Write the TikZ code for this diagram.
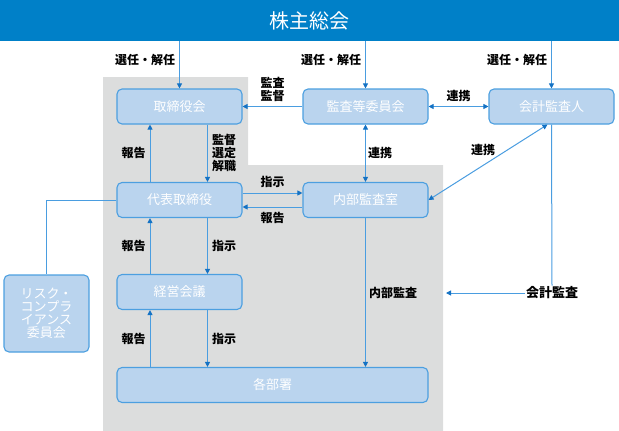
\documentclass[tikz,border=0pt]{standalone}
\usepackage{fontspec}
\setmainfont{Noto Sans CJK JP}
\usetikzlibrary{arrows.meta}
\definecolor{barblue}{HTML}{0080C8}
\definecolor{boxfill}{HTML}{BAD4EE}
\definecolor{boxline}{HTML}{4C9FE0}
\definecolor{lineblue}{HTML}{4A9DE0}
\definecolor{tipblue}{HTML}{1472C4}
\definecolor{areagray}{HTML}{DCDDDD}

\begin{document}
\begin{tikzpicture}[x=1pt, y=-1pt,
    >={Triangle[length=5pt,width=5pt,color=tipblue]},
    box/.style={draw=boxline, line width=1.1pt, fill=boxfill, rounded corners=5pt,
      minimum width=125pt, minimum height=35pt, inner sep=0pt, text=white,
      font=\fontsize{13}{13}\selectfont, align=center},
    lbl/.style={font=\bfseries\fontsize{12}{13}\selectfont, inner sep=1pt, align=center, text=black},
    conn/.style={draw=lineblue, line width=1pt}]
	\useasboundingbox (0,0) rectangle (619,431);
	\fill[areagray] (103,77) -- (248,77) -- (248,165) -- (443,165) -- (443,431) -- (103,431) -- cycle;

	\node[fill=barblue, minimum width=619pt, minimum height=41pt, inner sep=0pt, text=white,
	  font=\fontsize{20}{20}\selectfont] (agm) at (309.5,20.5) {株主総会};

	\node[box] (bod) at (179.5,106.5) {取締役会};
	\node[box] (acc) at (365.5,106.5) {監査等委員会};
	\node[box] (aud) at (551.5,106.5) {会計監査人};
	\node[box] (ceo) at (179.5,200) {代表取締役};
	\node[box] (ias) at (365.5,200) {内部監査室};
	\node[box] (mgmt) at (179.5,292) {経営会議};
	\node[box, minimum width=85pt, minimum height=77pt] (risk) at (46.5,313.5) {リスク・\\コンプラ\\イアンス\\委員会};
	\node[box, minimum width=311pt] (depts) at (272.5,385) {各部署};

		\draw[conn,->] (agm.south -| bod.north) -- node[lbl, left=3pt, pos=0.4] (sel1) {選任・解任} (bod.north);
		\draw[conn,->] (agm.south -| acc.north) -- node[lbl, left=3pt, pos=0.4] (sel2) {選任・解任} (acc.north);
		\draw[conn,->] (agm.south -| aud.north) -- node[lbl, left=3pt, pos=0.4] (sel3) {選任・解任} (aud.north);

		\draw[conn,->] (acc.west) -- node[lbl, above=3pt] (kansa) {監査\\監督} (bod.east);
		\draw[conn,<->] (acc.east) -- node[lbl, above=3.5pt] (renkei1) {連携} (aud.west);
		\draw[conn,<->] (acc.south) -- node[lbl, right=1pt] (renkei2) {連携} (ias.north);
		\draw[conn,<->] ([xshift=-4pt]aud.south) -- node[lbl, above=5pt, xshift=-5pt] (renkei3) {連携} (ias.east);

		\draw[conn,->] ([xshift=28pt]bod.south) -- node[lbl, right=3pt] (kantoku) {監督\\選定\\解職} ([xshift=28pt]ceo.north);
		\draw[conn,->] ([xshift=-29.5pt]ceo.north) -- node[lbl, left=3pt] (hokoku1) {報告} ([xshift=-29.5pt]bod.south);

		\draw[conn,->] ([yshift=7pt]ceo.east) -- node[lbl, above=4pt] (shiji1) {指示} ([yshift=7pt]ias.west);
		\draw[conn,->] ([yshift=-7pt]ias.west) -- node[lbl, below=3.5pt] (hokoku2) {報告} ([yshift=-7pt]ceo.east);

		\draw[conn,->] ([xshift=28pt]ceo.south) -- node[lbl, right=3pt] (shiji2) {指示} ([xshift=28pt]mgmt.north);
		\draw[conn,->] ([xshift=-29.5pt]mgmt.north) -- node[lbl, left=3pt] (hokoku3) {報告} ([xshift=-29.5pt]ceo.south);
		\draw[conn,->] ([xshift=28pt]mgmt.south) -- node[lbl, right=3pt] (shiji3) {指示} ([xshift=28pt]mgmt.south |- depts.north);
		\draw[conn,->] ([xshift=-29.5pt]mgmt.south |- depts.north) -- node[lbl, left=3pt] (hokoku4) {報告} ([xshift=-29.5pt]mgmt.south);

		\draw[conn,->] (ias.south) -- node[lbl, right=2pt] (naibu) {内部監査} (ias.south |- depts.north);

		\node[lbl, font=\bfseries\fontsize{13}{13}\selectfont] (kaikei) at (552,293) {会計監査};
		\coordinate (kaikeiend) at (446,293);
		\draw[conn] (aud.south) -- (kaikei.north);
		\draw[conn,->] (kaikei.west) -- (kaikeiend);

		\draw[conn] (ceo.west) -| (risk.north);
\end{tikzpicture}
\end{document}
